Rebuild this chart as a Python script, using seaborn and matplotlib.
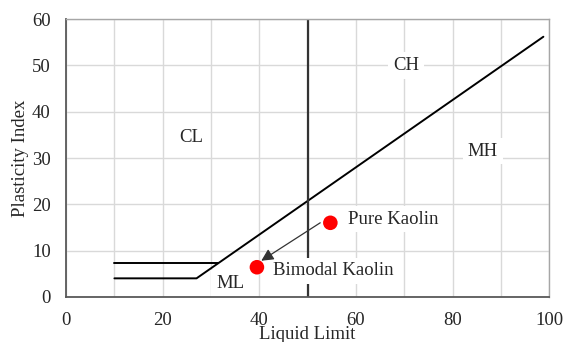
import matplotlib
matplotlib.use("Agg")
import matplotlib.pyplot as plt
import seaborn as sns
import pandas as pd

# boundary lines of the plasticity chart
a_line_ll = [10, 27, 98.8]
a_line_pi = [4, 4, 56.2]
u_step_ll = [10, 31.5]
u_step_pi = [7.3, 7.3]
split_ll = [50, 50]
split_pi = [0, 60]

# soil samples
samples = ["Pure Kaolin", "Bimodal Kaolin"]
sample_ll = [54.7, 39.5]
sample_pi = [16.0, 6.4]

# zone labels
zones = ["CL", "CH", "MH", "ML"]
zone_ll = [26, 70.4, 86.3, 34]
zone_pi = [34.5, 50, 31.5, 2.9]

sns.set_style("whitegrid")
plt.rcParams['font.family'] = ['Liberation Serif', 'DejaVu Serif']

fig, ax = plt.subplots(figsize=(5.65, 3.42), dpi=100)
fig.subplots_adjust(left=0.117, right=0.972, top=0.944, bottom=0.132)

sns.lineplot(x=a_line_ll, y=a_line_pi, ax=ax, color="black", lw=1.4,
             sort=False, estimator=None)
sns.lineplot(x=u_step_ll, y=u_step_pi, ax=ax, color="black", lw=1.4,
             sort=False, estimator=None)
sns.lineplot(x=split_ll, y=split_pi, ax=ax, color="#333333", lw=1.6,
             sort=False, estimator=None)

df = pd.DataFrame({"LL": sample_ll, "PI": sample_pi, "name": samples})
sns.scatterplot(data=df, x="LL", y="PI", ax=ax, color="red", s=110,
                edgecolor="none", zorder=5)

fs = 13.5
box = dict(facecolor="white", edgecolor="none", pad=3.5)
for name, x, y in zip(zones, zone_ll, zone_pi):
    ax.text(x, y, name, fontsize=fs, ha="center", va="center", bbox=box, zorder=2.2)

ax.text(58.4, 16.8, "Pure Kaolin", fontsize=fs, ha="left", va="center",
        bbox=box, zorder=4)
ax.text(42.9, 5.6, "Bimodal Kaolin", fontsize=fs, ha="left", va="center",
        bbox=box, zorder=4)

ax.annotate("", xy=(40.4, 7.8), xytext=(52.6, 16.0),
            arrowprops=dict(arrowstyle="-|>", color="#333333", lw=0.9,
                            mutation_scale=18, shrinkA=0, shrinkB=0), zorder=6)

ax.set_xlim(0, 100)
ax.set_ylim(0, 60)
ax.set_xticks(range(0, 101, 20))
ax.set_xticks(range(0, 101, 10), minor=True)
ax.set_yticks(range(0, 61, 10))
ax.grid(True, which="both", color="#d9d9d9", lw=1.0)
ax.tick_params(axis="x", labelsize=fs, length=0, pad=11)
ax.tick_params(axis="y", labelsize=fs, length=0, pad=11)

ax.set_xlabel("Liquid Limit", fontsize=fs, labelpad=-2)
ax.set_ylabel("Plasticity Index", fontsize=fs, labelpad=2)

for side in ["left", "bottom"]:
    ax.spines[side].set_color("#595959")
    ax.spines[side].set_linewidth(1.3)
for side in ["top", "right"]:
    ax.spines[side].set_color("#a6a6a6")
    ax.spines[side].set_linewidth(1.0)

plt.savefig("out.png", dpi=100)
